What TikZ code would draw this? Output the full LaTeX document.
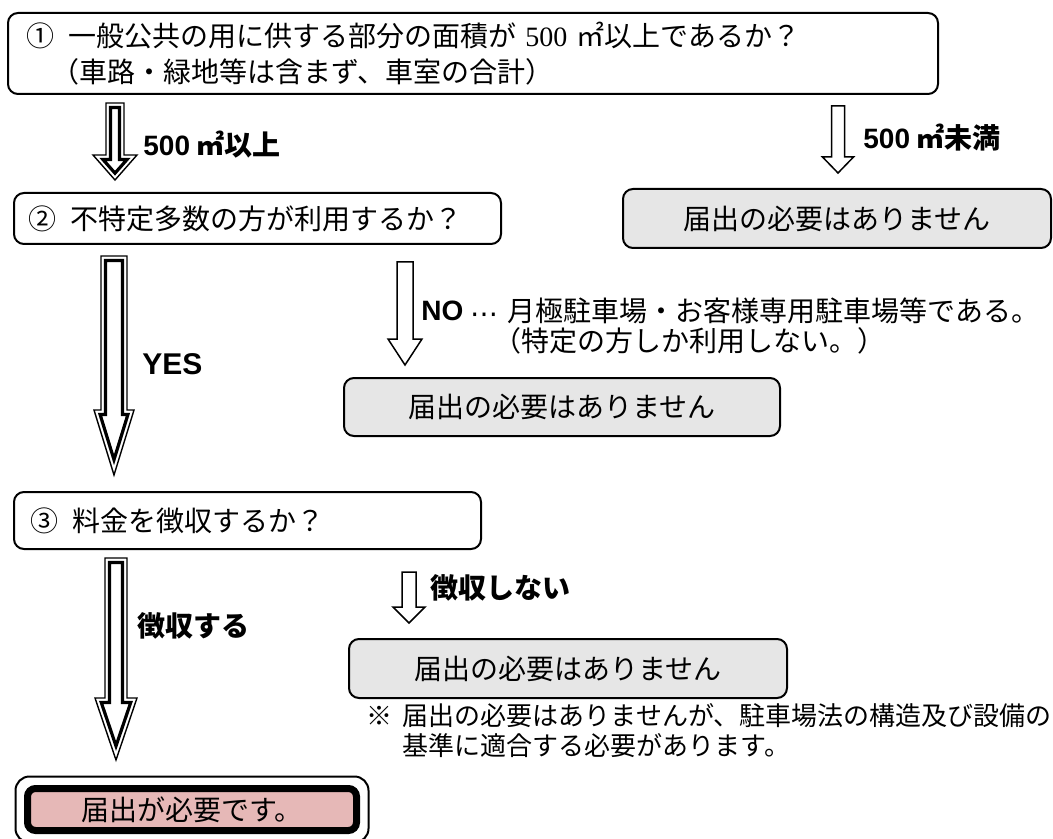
\documentclass[tikz,border=0pt]{standalone}
\usepackage{fontspec}
\usepackage{xcolor}
\setmainfont{Noto Sans CJK JP}
\newfontfamily\latinsans{Liberation Sans}
\newfontfamily\latinserif{Liberation Serif}
\newfontfamily\symfont{DejaVu Sans}

\definecolor{nofill}{HTML}{E6E6E6}
\definecolor{needfill}{HTML}{E6B8B7}

\tikzset{
	qbox/.style={draw, line width=1pt, rounded corners=5pt, anchor=north west, align=left,
		font=\fontsize{14pt}{18pt}\selectfont},
	nobox/.style={draw, line width=1pt, rounded corners=5pt, fill=nofill, anchor=north west,
		inner sep=0pt, font=\fontsize{14pt}{18pt}\selectfont},
	lab/.style={anchor=west, inner sep=0pt, font=\bfseries\fontsize{14pt}{16pt}\selectfont},
	note/.style={anchor=west, align=left, inner sep=0pt},
	% plain block arrow: length / head length / half shaft / half head
	pics/blockarrow/.style args={#1/#2/#3/#4}{code={
		\draw[line width=0.75pt, line join=miter] (-#3,0) -- (#3,0) -- (#3,#1-#2) -- (#4,#1-#2)
			-- (0,#1) -- (-#4,#1-#2) -- (-#3,#1-#2) -- cycle;
	}},
	% block arrow with thin outer and thick inner outline
	pics/dblarrow/.style args={#1/#2/#3/#4}{code={
		\pgfmathsetmacro\slant{sqrt((#4)^2+(#2)^2)}
		\pgfmathsetmacro\ih{#4*(1-4.5/#2)-4.5*\slant/#2}
		\pgfmathsetmacro\it{#1-4.5*\slant/#4}
		\draw[line width=0.7pt, line join=miter] (-#3,0) -- (#3,0) -- (#3,#1-#2) -- (#4,#1-#2)
			-- (0,#1) -- (-#4,#1-#2) -- (-#3,#1-#2) -- cycle;
		\draw[line width=1.6pt, line join=miter] (-#3+4.5,4.5) -- (#3-4.5,4.5) -- (#3-4.5,#1-#2+4.5)
			-- (\ih,#1-#2+4.5) -- (0,\it) -- (-\ih,#1-#2+4.5) -- (-#3+4.5,#1-#2+4.5) -- cycle;
	}}
}

\begin{document}
\begin{tikzpicture}[x=0.5pt, y=-0.5pt]
	\useasboundingbox (0,0) rectangle (1053,839);

	% Questions
	\node[qbox, inner xsep=9pt, text width=447pt, minimum height=40.5pt] (q1) at (7,12)
		{①\hspace{0.5em}一般公共の用に供する部分の面積が {\latinserif 500} ㎡以上であるか？\\
		\hspace*{0.9em}（車路・緑地等は含まず、車室の合計）};
	\node[qbox, inner xsep=7pt, text width=229.5pt, minimum height=25.5pt] (q2) at (13,192)
		{②\hspace{0.5em}不特定多数の方が利用するか？};
	\node[qbox, inner xsep=8pt, text width=217.5pt, minimum height=28.5pt] (q3) at (13,491)
		{③\hspace{0.5em}料金を徴収するか？};

	% No need to notify
	\node[nobox, minimum width=214pt, minimum height=29.5pt] (no1) at (622,188) {届出の必要はありません};
	\node[nobox, minimum width=218pt, minimum height=29pt] (no2) at (343,377) {届出の必要はありません};
	\node[nobox, minimum width=219pt, minimum height=29.5pt] (no3) at (348,638) {届出の必要はありません};

	% Notification needed
	\node[draw, line width=3.5pt, rounded corners=4pt, fill=needfill, anchor=north west, inner sep=0pt,
		minimum width=164.5pt, minimum height=21pt, font=\fontsize{14pt}{18pt}\selectfont] (fin) at (24,785)
		{届出が必要です。};
	\draw[line width=1pt, rounded corners=7pt] ([xshift=-4.25pt,yshift=4.25pt]fin.north west)
		rectangle ([xshift=4.25pt,yshift=-4.25pt]fin.south east);

	% Arrows
	\pic at (115,103) {dblarrow=77/25/9/22};
	\pic at (114,256) {dblarrow=219/65/13/20};
	\pic at (116,558) {dblarrow=202/62/11/21};
	\pic at (838,106) {blockarrow=67/16/6.5/15.5};
	\pic at (405,262) {blockarrow=103/26/8/17};
	\pic at (409,572) {blockarrow=51/16/7/16};

	% Labels on arrows
	\node[lab] (lover) at (143,145) {{\latinsans 500} ㎡以上};
	\node[lab] (lunder) at (863,138) {{\latinsans 500} ㎡未満};
	\node[lab] (lyes) at (142,364) {{\latinsans\fontsize{15pt}{16pt}\selectfont YES}};
	\node[lab] (lno) at (421,311) {\latinsans NO};
	\node[font=\symfont\fontsize{14pt}{16pt}\selectfont, inner sep=0pt] (ldots) at (484,318) {⋯};

	\node[lab] (lpay) at (137,626) {徴収する};
	\node[lab] (lnopay) at (430,588) {徴収しない};

	% Notes
	\node[note, font=\fontsize{14pt}{15pt}\selectfont] (lnonote) at (507,326)
		{月極駐車場・お客様専用駐車場等である。\\
		\hspace*{-0.5em}（特定の方しか利用しない。）};
	\node[note, font=\fontsize{13pt}{15pt}\selectfont] (caution) at (366,731)
		{※\hspace{0.4em}届出の必要はありませんが、駐車場法の構造及び設備の\\
		\hspace*{1.4em}基準に適合する必要があります。};
\end{tikzpicture}
\end{document}
